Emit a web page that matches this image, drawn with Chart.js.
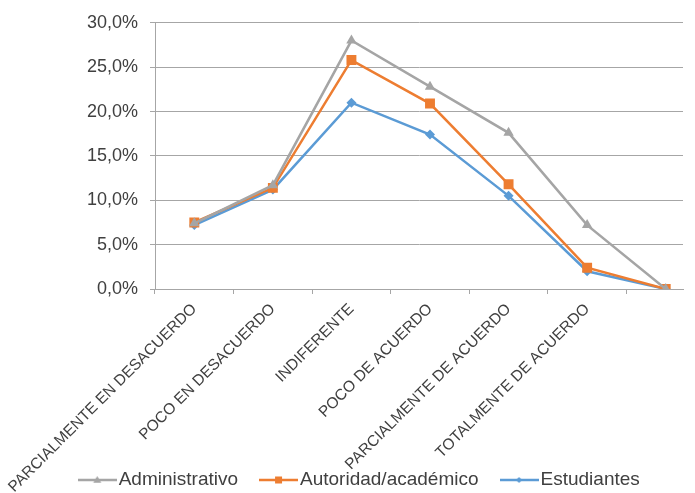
<!DOCTYPE html>
<html>
<head>
<meta charset="utf-8">
<script src="https://cdn.jsdelivr.net/npm/chart.js"></script>
<style>
    html, body { margin: 0; padding: 0; background: #fff; }
    #wrap { width: 695px; height: 493px; }
</style>
</head>
<body>
<div id="wrap"><canvas id="chart"></canvas></div>
<script>
    var categories = [
        "PARCIALMENTE EN DESACUERDO",
        "POCO EN DESACUERDO",
        "INDIFERENTE",
        "POCO DE ACUERDO",
        "PARCIALMENTE DE ACUERDO",
        "TOTALMENTE DE ACUERDO",
        ""
    ];
    var administrativo = [7.4, 11.7, 28.0, 22.8, 17.6, 7.2, 0];
    var autoridad = [7.5, 11.4, 25.8, 20.9, 11.8, 2.4, 0];
    var estudiantes = [7.2, 11.2, 21.0, 17.4, 10.5, 2.0, 0];
    var yTicks = [0, 5, 10, 15, 20, 25, 30];

    var fontFamily = "'Liberation Sans', Arial, sans-serif";
    var textColor = "#404040";
    var gridColor = "#a6a6a6";

    // small line + marker image for the legend
    function legendIcon(color, shape, size) {
        var c = document.createElement("canvas");
        c.width = 39;
        c.height = 12;
        var ctx = c.getContext("2d");
        ctx.strokeStyle = color;
        ctx.fillStyle = color;
        ctx.lineWidth = 2.5;
        ctx.beginPath();
        ctx.moveTo(0, 6);
        ctx.lineTo(39, 6);
        ctx.stroke();
        ctx.beginPath();
        if (shape === "triangle") {
            ctx.moveTo(19.5, 6 - size);
            ctx.lineTo(19.5 + size, 6 + size * 0.7);
            ctx.lineTo(19.5 - size, 6 + size * 0.7);
        } else if (shape === "rect") {
            ctx.rect(19.5 - size, 6 - size, size * 2, size * 2);
        } else {
            ctx.moveTo(19.5, 6 - size);
            ctx.lineTo(19.5 + size, 6);
            ctx.lineTo(19.5, 6 + size);
            ctx.lineTo(19.5 - size, 6);
        }
        ctx.closePath();
        ctx.fill();
        return c;
    }

    function toPoints(values) {
        return values.map(function(v, i) { return { x: i, y: v }; });
    }

    var series = [
        { label: "Administrativo", data: administrativo, color: "#a5a5a5", style: "triangle", radius: 6, icon: legendIcon("#a5a5a5", "triangle", 4) },
        { label: "Autoridad/académico", data: autoridad, color: "#ed7d31", style: "rect", radius: 7, icon: legendIcon("#ed7d31", "rect", 3.5) },
        { label: "Estudiantes", data: estudiantes, color: "#5b9bd5", style: "rectRot", radius: 5, icon: legendIcon("#5b9bd5", "diamond", 3) }
    ];

    new Chart(document.getElementById("chart").getContext("2d"), {
        type: "line",
        data: {
            datasets: series.map(function(s) {
                return {
                    label: s.label,
                    data: toPoints(s.data),
                    borderColor: s.color,
                    backgroundColor: s.color,
                    borderWidth: 2.5,
                    pointStyle: s.style,
                    pointRadius: s.radius,
                    pointBorderWidth: 0,
                    pointBackgroundColor: s.color,
                    tension: 0,
                    fill: false
                };
            })
        },
        options: {
            responsive: true,
            maintainAspectRatio: false,
            animation: false,
            layout: { padding: { top: 16, right: 12, left: 42, bottom: -6.5 } },
            plugins: {
                title: { display: false },
                tooltip: { enabled: false },
                legend: {
                    display: true,
                    position: "bottom",
                    labels: {
                        usePointStyle: true,
                        pointStyleWidth: 24,
                        padding: 28.5,
                        color: textColor,
                        font: { family: fontFamily, size: 19 },
                        generateLabels: function(chart) {
                            var items = Chart.defaults.plugins.legend.labels.generateLabels(chart);
                            items.forEach(function(it, i) { it.pointStyle = series[i].icon; });
                            return items;
                        }
                    }
                }
            },
            scales: {
                x: {
                    type: "linear",
                    min: -0.5,
                    max: 6.22,
                    afterBuildTicks: function(scale) {
                        scale.ticks = categories.map(function(c, i) { return { value: i }; });
                    },
                    afterFit: function(scale) {
                        scale.height = 153;
                        scale.paddingLeft = 0;
                        scale.paddingRight = 0;
                        // let the rotated labels run past the axis box
                        scale._computeLabelArea = function() { return undefined; };
                    },
                    ticks: {
                        autoSkip: false,
                        minRotation: 45,
                        maxRotation: 45,
                        padding: 6,
                        color: textColor,
                        font: { family: fontFamily, size: 15.5 },
                        callback: function(value) { return categories[value]; }
                    },
                    grid: {
                        offset: true,
                        drawOnChartArea: false,
                        drawTicks: true,
                        tickLength: 5,
                        color: gridColor
                    },
                    border: { color: gridColor, width: 1 }
                },
                y: {
                    min: 0,
                    max: 30,
                    afterBuildTicks: function(scale) {
                        scale.ticks = yTicks.map(function(v) { return { value: v }; });
                    },
                    afterFit: function(scale) { scale.width = 113; },
                    ticks: {
                        padding: 12,
                        color: textColor,
                        font: { family: fontFamily, size: 18 },
                        callback: function(value) { return value.toFixed(1).replace(".", ",") + "%"; }
                    },
                    grid: {
                        color: gridColor,
                        lineWidth: 1,
                        drawTicks: true,
                        tickLength: 5
                    },
                    border: { color: gridColor, width: 1 }
                }
            }
        }
    });
</script>
</body>
</html>
